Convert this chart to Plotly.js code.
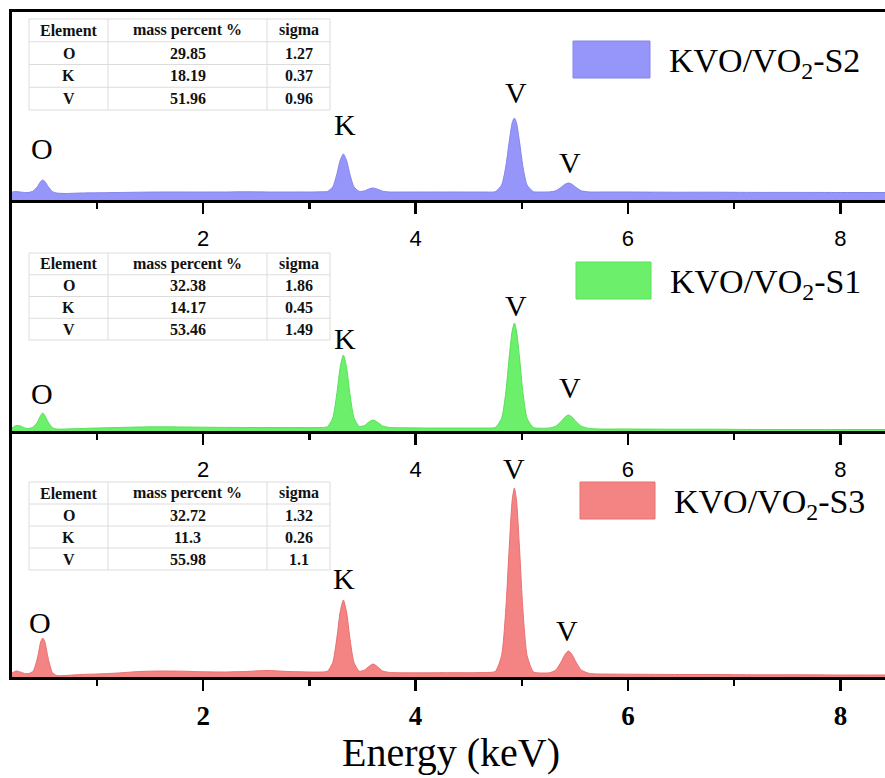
<!DOCTYPE html>
<html>
<head>
<meta charset="utf-8">
<script src="https://cdn.plot.ly/plotly-3.0.1.min.js"></script>
<style>
  html, body { margin: 0; padding: 0; background: #fff; }
  #chart { width: 885px; height: 778px; }
</style>
</head>
<body>
<div id="chart"></div>
<script>
// EDS spectra of three KVO/VO2 samples (counts in arbitrary units)
const energy = [0.20, 0.24, 0.28, 0.32, 0.36, 0.40, 0.44, 0.47, 0.49, 0.51, 0.54, 0.58, 0.62, 0.70, 0.85,
  1.0, 1.2, 1.4, 1.6, 1.8, 2.0, 2.2, 2.4, 2.6, 2.8, 3.0, 3.12, 3.17, 3.22, 3.26, 3.29, 3.32, 3.35, 3.38,
  3.42, 3.47, 3.52, 3.56, 3.60, 3.64, 3.69, 3.76, 3.9, 4.1, 4.3, 4.5, 4.65, 4.75, 4.81, 4.85, 4.88, 4.91,
  4.93, 4.95, 4.98, 5.01, 5.05, 5.11, 5.18, 5.26, 5.32, 5.37, 5.41, 5.44, 5.47, 5.51, 5.56, 5.64, 5.75,
  6.0, 6.4, 6.8, 7.2, 7.6, 8.0, 8.42];

const countsS2 = [8, 8.5, 8, 7.5, 7.6, 9, 13.5, 18.5, 20, 18.5, 13.5, 8.5, 7, 6.5, 7,
  7.2, 7.5, 7.8, 8, 8, 8, 8, 8.2, 8, 8, 8, 8.2, 8.6, 13, 26.5, 39.7, 46, 39.7, 26.5,
  13.1, 8.6, 9.2, 11, 12, 10.9, 8.8, 8, 8, 8, 8, 8, 8, 8.3, 14.9, 33.8, 57, 77.3,
  82, 77.3, 57, 33.8, 14.9, 8.3, 8, 8.1, 9.2, 12.6, 15.9, 17, 15.9, 12.6, 9.2, 8, 8,
  8, 7.8, 7.8, 7.6, 7.6, 7.5, 7.5];

const countsS1 = [3, 5.5, 5, 3, 2.5, 4, 9, 15.5, 18, 15.5, 9, 3.5, 2, 2, 2.5,
  3, 3.5, 4, 4.2, 4, 3.8, 3.6, 3.5, 3.5, 3.4, 3.4, 3.5, 4.3, 13, 38.5, 63.6, 76, 63.6, 38.5,
  13.2, 4.5, 5.6, 9, 11, 9, 5, 3.5, 3.2, 3, 3, 3, 3, 3.5, 12.7, 39, 72, 100,
  108, 100, 72, 39, 12.7, 3.4, 2.8, 3, 4.8, 9.5, 14.3, 16, 14.3, 9.5, 4.8, 2.5, 2,
  2, 1.8, 1.8, 1.5, 1.5, 1.5, 1.5];

const countsS3 = [4, 6, 5, 3.5, 3.5, 6, 19, 35, 39, 35, 19, 4.5, 1.5, 1.5, 2.5,
  3, 4, 5.5, 6, 5.8, 5.2, 5, 5.5, 6.5, 5.5, 5, 5, 5.8, 14.5, 40, 65, 77, 65, 40,
  14.5, 5.8, 7, 10.5, 13, 10.5, 6, 4.5, 4.2, 4.2, 4.3, 4.3, 4.5, 5.5, 21.5, 68, 126, 177,
  189, 177, 126, 68, 21.5, 5, 4, 4.2, 7, 15, 23, 26, 23, 15, 7, 3.5, 3,
  2.8, 2.5, 2.5, 2.2, 2.2, 2, 2];

const sampleNames = ['KVO/VO<sub>2</sub>-S2', 'KVO/VO<sub>2</sub>-S1', 'KVO/VO<sub>2</sub>-S3'];
const fillColors = ['#9696fa', '#6cf06c', '#f48484'];
const edgeColors = ['#8484ee', '#58e058', '#e87070'];

// Quantification tables (one per sample)
const tableHead = ['Element', 'mass percent %', 'sigma'];
const tableElements = ['O', 'K', 'V'];
const massS2 = ['29.85', '18.19', '51.96'];
const sigmaS2 = ['1.27', '0.37', '0.96'];
const massS1 = ['32.38', '14.17', '53.46'];
const sigmaS1 = ['1.86', '0.45', '1.49'];
const massS3 = ['32.72', '11.3', '55.98'];
const sigmaS3 = ['1.32', '0.26', '1.1'];

// ---- page geometry (pixels) ----
const W = 885, H = 778, ML = 12, MR = 0, MT = 12, MB = 101;
const PW = W - ML - MR, PH = H - MT - MB;
const px = x => (x - ML) / PW;
const py = y => (H - MB - y) / PH;

const serif = 'Liberation Serif, Times New Roman, serif';
const sans = 'Liberation Sans, Arial, sans-serif';

// panels: top = S2 (x3/y3), middle = S1 (x2/y2), bottom = S3 (x/y)
const traces = [
  { x: energy, y: countsS2, xaxis: 'x3', yaxis: 'y3' },
  { x: energy, y: countsS1, xaxis: 'x2', yaxis: 'y2' },
  { x: energy, y: countsS3, xaxis: 'x', yaxis: 'y' }
].map((t, i) => Object.assign(t, {
  type: 'scatter', mode: 'lines', fill: 'tozeroy',
  name: sampleNames[i],
  line: { color: edgeColors[i], width: 1, shape: 'spline', smoothing: 0.6 },
  fillcolor: fillColors[i],
  showlegend: false, hoverinfo: 'x+y'
}));

function xAxis(anchor, bold) {
  return {
    anchor: anchor,
    range: [0.2, 8.42],
    showline: true, linewidth: 3, linecolor: '#000',
    showgrid: false, zeroline: false,
    tickmode: 'linear', tick0: 0, dtick: 2,
    ticks: 'outside', ticklen: 11, tickwidth: 2.5, tickcolor: '#000',
    minor: { tickmode: 'linear', tick0: 1, dtick: 2, ticks: 'outside', ticklen: 6, tickwidth: 2.5, tickcolor: '#000', showgrid: false },
    ticklabelstandoff: bold ? 2 : 6,
    tickfont: bold
      ? { family: serif, size: 27, color: '#000', weight: 'bold' }
      : { family: sans, size: 22, color: '#000' },
    fixedrange: true
  };
}
function yAxis(domain, top) {
  return {
    domain: domain, range: [0, top],
    showline: true, linewidth: 3, linecolor: '#000',
    showgrid: false, zeroline: false, showticklabels: false, ticks: '',
    fixedrange: true
  };
}

const shapes = [];
const annotations = [];

function addText(text, x, y, font, extra) {
  annotations.push(Object.assign({
    text: text, xref: 'paper', yref: 'paper', x: px(x), y: py(y),
    xanchor: 'center', yanchor: 'middle', showarrow: false, font: font
  }, extra || {}));
}

function addTable(top, bottom, mass, sigma) {
  const cols = [29, 108, 267, 330];
  const rowH = (bottom - top) / 4;
  const grid = { color: '#dcdcdc', width: 1 };
  shapes.push({ type: 'rect', xref: 'paper', yref: 'paper', x0: px(cols[0]), x1: px(cols[3]), y0: py(top), y1: py(bottom), line: grid });
  for (let r = 1; r < 4; r++) {
    shapes.push({ type: 'line', xref: 'paper', yref: 'paper', x0: px(cols[0]), x1: px(cols[3]), y0: py(top + r * rowH), y1: py(top + r * rowH), line: grid });
  }
  for (let c = 1; c < 3; c++) {
    shapes.push({ type: 'line', xref: 'paper', yref: 'paper', x0: px(cols[c]), x1: px(cols[c]), y0: py(top), y1: py(bottom), line: grid });
  }
  const f = { family: serif, size: 16, color: '#111', weight: 'bold' };
  const rows = [tableHead].concat(tableElements.map((e, i) => [e, mass[i], sigma[i]]));
  rows.forEach((row, r) => {
    row.forEach((cell, c) => {
      addText(cell, (cols[c] + cols[c + 1]) / 2, top + (r + 0.5) * rowH, f);
    });
  });
}

addTable(19, 110, massS2, sigmaS2);
addTable(253, 340, massS1, sigmaS1);
addTable(482, 570, massS3, sigmaS3);

// legend swatches and sample names
const legendBoxes = [[573, 41, 650, 78], [576, 262, 651, 299], [580, 482, 655, 519]];
legendBoxes.forEach((b, i) => {
  shapes.push({ type: 'rect', xref: 'paper', yref: 'paper', x0: px(b[0]), x1: px(b[2]), y0: py(b[1]), y1: py(b[3]),
    fillcolor: fillColors[i], line: { color: edgeColors[i], width: 1 } });
  annotations.push({ text: sampleNames[i], xref: 'paper', yref: 'paper', x: px(b[2] + 17), y: py((b[1] + b[3]) / 2 + 3),
    xanchor: 'left', yanchor: 'middle', showarrow: false, font: { family: serif, size: 34, color: '#000' } });
});

// element labels above the emission lines
const peakFont = { family: serif, size: 30, color: '#000' };
[
  ['O', 42, 148], ['K', 345, 125], ['V', 516, 93], ['V', 570, 162],
  ['O', 42, 393], ['K', 345, 338], ['V', 516, 305], ['V', 570, 387],
  ['O', 40, 622], ['K', 344, 578], ['V', 514, 468], ['V', 567, 630]
].forEach(p => addText(p[0], p[1], p[2], peakFont));

// axis title
addText('Energy (keV)', 451, 752, { family: serif, size: 40, color: '#000' });

const xa3 = xAxis('y3', false);
xa3.mirror = true;

const layout = {
  width: W, height: H,
  margin: { l: ML, r: MR, t: MT, b: MB, pad: 0 },
  paper_bgcolor: '#fff', plot_bgcolor: 'rgba(0,0,0,0)',
  showlegend: false,
  xaxis: xAxis('y', true),
  xaxis2: xAxis('y2', false),
  xaxis3: xa3,
  yaxis: yAxis([0, py(431)], 246),
  yaxis2: yAxis([py(431), py(200)], 231),
  yaxis3: yAxis([py(200), 1], 188),
  shapes: shapes,
  annotations: annotations
};

Plotly.newPlot('chart', traces, layout, { displayModeBar: false, staticPlot: true });
</script>
</body>
</html>
